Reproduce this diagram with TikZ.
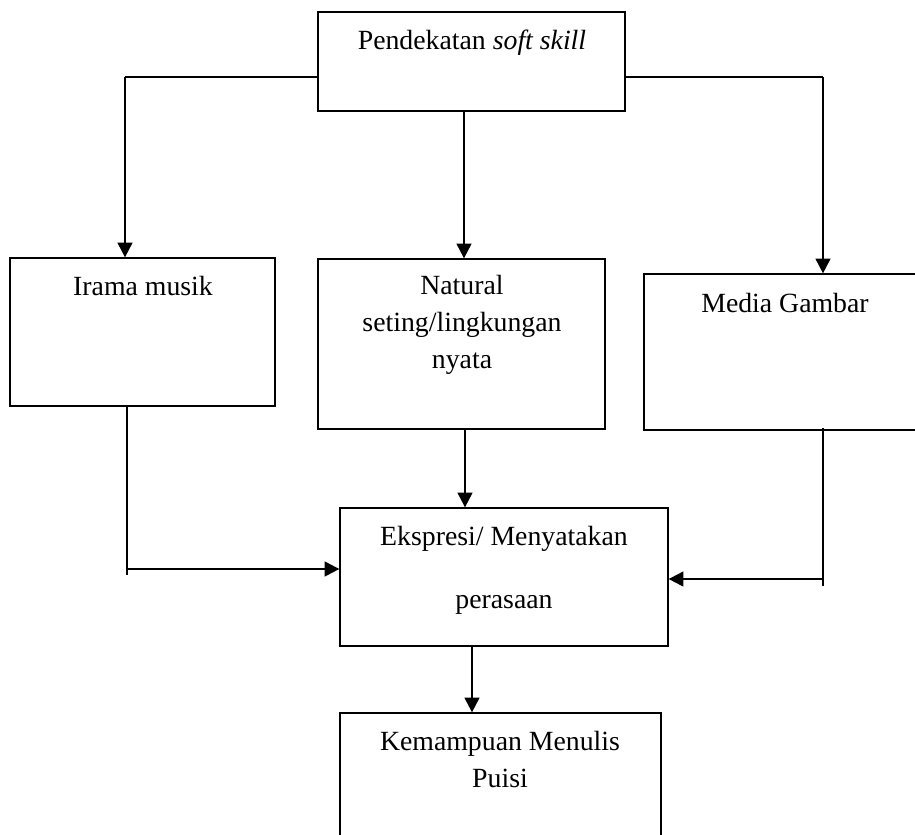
\documentclass[tikz,border=0pt]{standalone}
\usepackage{fontspec}
\setmainfont{Liberation Serif}
\usetikzlibrary{arrows.meta, positioning, fit, calc}

\begin{document}
\begin{tikzpicture}[
    x=0.432pt,          % one unit = one pixel of the sketch
    y=-0.432pt,
    >={Triangle[length=6.4pt, width=6.4pt]},
    font=\fontsize{12}{15.8}\selectfont,
    box/.style={draw, line width=0.55pt, inner sep=0pt},
    boxtext/.style={anchor=base, align=center, inner sep=0pt}, % base = last line
    link/.style={line width=0.55pt},
    flow/.style={->, line width=0.9pt}
  ]

  % --- CANVAS ---
  \useasboundingbox (0,0) rectangle (915,834);
  \clip (0,0) rectangle (915,834);

  % --- BOXES ---
  \node[box, fit={(318,12) (625,111)}] (soft) {};
  \node[box, fit={(10,258) (275,406)}] (irama) {};
  \node[box, fit={(318,259) (605,429)}] (natural) {};
  \node[box, fit={(644,274) (916,430)}] (media) {};
  \node[box, fit={(340,508) (668,646)}] (ekspresi) {};
  \node[box, fit={(340,713) (661,840)}] (puisi) {};

  % --- TEXTS ---
  \node[boxtext] (softtxt) at (472,49) {Pendekatan \textit{soft skill}};
  \node[boxtext] (iramatxt) at (143,295) {Irama musik};
  \node[boxtext] (naturaltxt) at (462,368) {Natural\\seting/lingkungan\\nyata};
  \node[boxtext] (mediatxt) at (785,312) {Media Gambar};
  \node[boxtext] (ekspresitxt) at (504,608) {Ekspresi/ Menyatakan\\[11pt]perasaan};
  \node[boxtext] (puisitxt) at (500,787) {Kemampuan Menulis\\Puisi};

  % --- BENDS ---
  \coordinate (lbend) at (125,77);
  \coordinate (rbend) at (823,77);
  \coordinate (mtop) at (464,0);
  \coordinate (lfoot) at (127,575);
  \coordinate (ljoin) at (127,569);
  \coordinate (rtop) at (823,428);
  \coordinate (rfoot) at (823,586);
  \coordinate (rjoin) at (823,579);
  \coordinate (mmid) at (465,0);
  \coordinate (mlow) at (472,0);

  % 1. Pendekatan to the three ways
  \draw[link] (soft.west |- lbend) -- (lbend);
  \draw[flow] (lbend) -- (irama.north -| lbend);
  \draw[flow] (soft.south -| mtop) -- (natural.north -| mtop);
  \draw[link] (soft.east |- rbend) -- (rbend);
  \draw[flow] (rbend) -- (media.north -| rbend);

  % 2. The three ways to Ekspresi
  \draw[link] (irama.south -| lfoot) -- (lfoot);
  \draw[flow] (ljoin) -- (ekspresi.west |- ljoin);
  \draw[flow] (natural.south -| mmid) -- (ekspresi.north -| mmid);
  \draw[link] (rtop) -- (rfoot);
  \draw[flow] (rjoin) -- (ekspresi.east |- rjoin);

  % 3. Ekspresi to Kemampuan
  \draw[flow] (ekspresi.south -| mlow) -- (puisi.north -| mlow);

\end{tikzpicture}
\end{document}
